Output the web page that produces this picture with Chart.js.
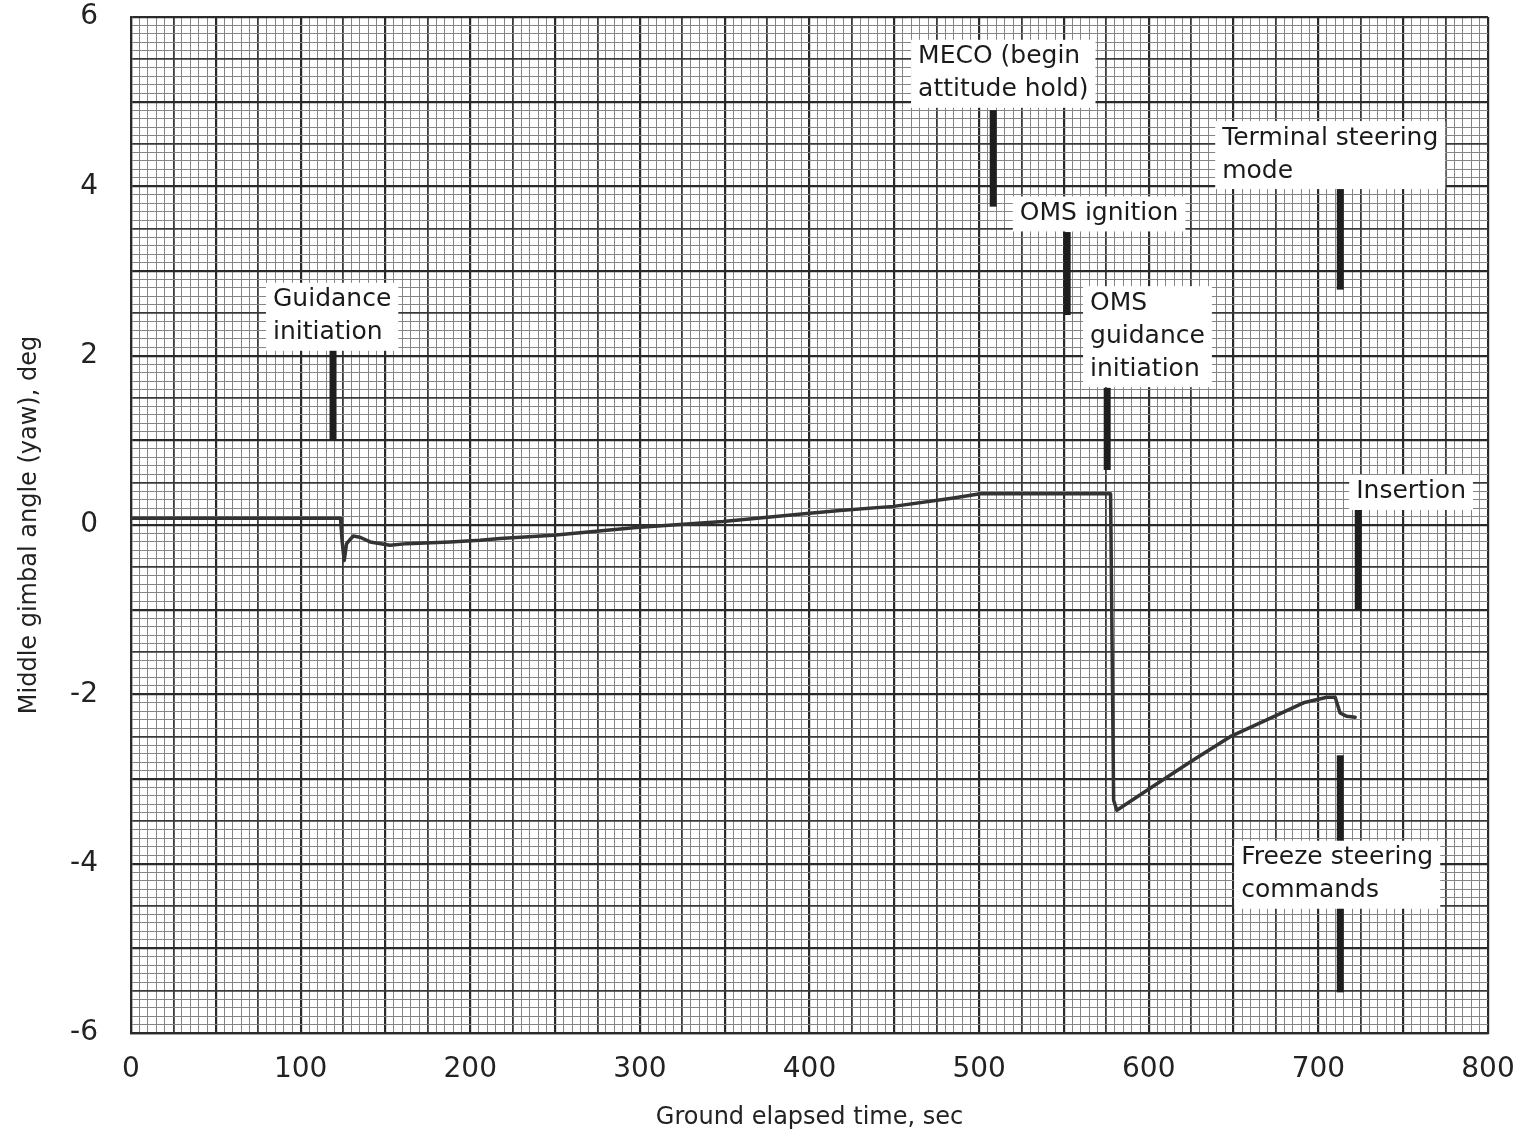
<!DOCTYPE html>
<html><head><meta charset="utf-8">
<script src="https://cdn.jsdelivr.net/npm/chart.js@4"></script>
<style>html,body{margin:0;padding:0;background:#fff}canvas{display:block}</style>
</head><body>
<canvas id="c" width="1521" height="1141"></canvas>
<script>
// ---- data ----
const timeSec = [0, 40, 80, 123.5, 124.5, 125.7, 127.1, 131, 135, 141, 152.7, 162.5, 188, 205.8, 217.6, 249, 298, 349, 400, 418, 449.5, 484.9, 500.6, 540, 577.5, 579.3, 581.2, 600.8, 624.4, 648, 667.6, 691.2, 705, 709.9, 712.8, 716.8, 721.7];
const yawDeg  = [0.08, 0.08, 0.08, 0.08, -0.2, -0.42, -0.22, -0.13, -0.145, -0.2, -0.24, -0.22, -0.2, -0.18, -0.16, -0.12, -0.03, 0.04, 0.14, 0.17, 0.22, 0.32, 0.37, 0.37, 0.37, -3.25, -3.37, -3.11, -2.8, -2.5, -2.32, -2.1, -2.035, -2.035, -2.22, -2.26, -2.27];
const xTickLabels = [0, 100, 200, 300, 400, 500, 600, 700, 800];
const yTickLabels = [-6, -4, -2, 0, 2, 4, 6];
const eventNames = [["Guidance", "initiation"], ["MECO (begin", "attitude hold)"], ["OMS ignition"], ["OMS", "guidance", "initiation"], ["Terminal steering", "mode"], ["Insertion"], ["Freeze steering", "commands"]];
const eventTimes = [119.1, 508.3, 551.9, 575.5, 712.9, 723.5, 712.9];
const eventBarTop = [2.07, 4.9, 3.46, 1.62, 3.99, 0.18, -2.72];
const eventBarBottom = [1.0, 3.76, 2.48, 0.65, 2.78, -1.0, -5.52];
const labelTimes = [83.7, 464, 524, 565.4, 643.3, 722.3, 654.5];
const labelYaw = [2.66, 5.53, 3.68, 2.62, 4.57, 0.39, -3.93];

// ---- styling helpers ----
const FONT = '"DejaVu Sans", sans-serif';
const gridColors = ['#858585', '#3a3a3a', '#2a2a2a'];
const gridWidths = [1, 1.8, 2.2];
function level(v, unit) {
  const n = Math.round(v / unit);
  if (n % 10 === 0) return 2;
  if (n % 5 === 0) return 1;
  return 0;
}
function noPad(s) { s.paddingTop = 0; s.paddingBottom = 0; s.paddingLeft = 0; s.paddingRight = 0; }

const eventPlugin = {
  id: 'events',
  beforeDatasetsDraw(chart) {
    const {ctx, scales: {x, y}} = chart;
    ctx.save();
    // bars first
    eventTimes.forEach((t0, i) => {
      const bx = x.getPixelForValue(t0);
      const t = y.getPixelForValue(eventBarTop[i]);
      const b = y.getPixelForValue(eventBarBottom[i]);
      ctx.fillStyle = '#1e1e1e';
      ctx.fillRect(bx - 3.5, t, 7, b - t);
    });
    // labels on white boxes
    ctx.font = '25px ' + FONT;
    ctx.textBaseline = 'middle';
    ctx.textAlign = 'left';
    const lh = 33;
    eventNames.forEach((lines, i) => {
      const lx = x.getPixelForValue(labelTimes[i]);
      const ly = y.getPixelForValue(labelYaw[i]);
      const w = Math.max(...lines.map(l => ctx.measureText(l).width));
      ctx.fillStyle = '#fff';
      ctx.fillRect(lx - 7, ly - 17, w + 14, lines.length * lh + 2);
      ctx.fillStyle = '#1a1a1a';
      lines.forEach((l, j) => ctx.fillText(l, lx, ly + j * lh));
    });
    ctx.restore();
  }
};

new Chart(document.getElementById('c'), {
  type: 'line',
  data: {
    datasets: [{
      data: timeSec.map((t, i) => ({x: t, y: yawDeg[i]})),
      borderColor: '#333',
      borderWidth: 3.5,
      borderJoinStyle: 'round',
      borderCapStyle: 'round',
      pointRadius: 0,
      tension: 0,
      fill: false
    }]
  },
  options: {
    responsive: false,
    animation: false,
    layout: {padding: {top: 17, right: 33, left: 0, bottom: 0}},
    plugins: {legend: {display: false}, tooltip: {enabled: false}},
    scales: {
      x: {
        type: 'linear', min: 0, max: 800,
        ticks: {
          stepSize: 5, autoSkip: false, maxRotation: 0, minRotation: 0, padding: 20,
          color: '#222', font: {family: FONT, size: 28},
          callback: v => xTickLabels.includes(Math.round(v)) && Math.abs(v - Math.round(v)) < 1e-6 ? String(Math.round(v)) : ''
        },
        grid: {
          drawTicks: false,
          color: c => gridColors[level(c.tick.value, 5)],
          lineWidth: c => gridWidths[level(c.tick.value, 5)]
        },
        border: {display: true, color: '#2a2a2a', width: 2.2},
        title: {display: true, text: 'Ground elapsed time, sec', color: '#222', font: {family: FONT, size: 24}, padding: {top: 0, bottom: 9}},
        afterFit(s) { s.height = 108; noPad(s); }
      },
      y: {
        type: 'linear', min: -6, max: 6,
        ticks: {
          stepSize: 0.1, autoSkip: false, padding: 33,
          color: '#222', font: {family: FONT, size: 28},
          callback: v => {
            const r = Math.round(v);
            return (Math.abs(v - r) < 1e-6 && yTickLabels.includes(r)) ? String(r) : '';
          }
        },
        grid: {
          drawTicks: false,
          color: c => gridColors[level(c.tick.value, 0.1)],
          lineWidth: c => gridWidths[level(c.tick.value, 0.1)]
        },
        border: {display: true, color: '#2a2a2a', width: 2.2},
        title: {display: true, text: 'Middle gimbal angle (yaw), deg', color: '#222', font: {family: FONT, size: 24}, padding: {top: 15, bottom: 0}},
        afterFit(s) { s.width = 131; noPad(s); }
      }
    }
  },
  plugins: [eventPlugin]
});
</script>
</body></html>
